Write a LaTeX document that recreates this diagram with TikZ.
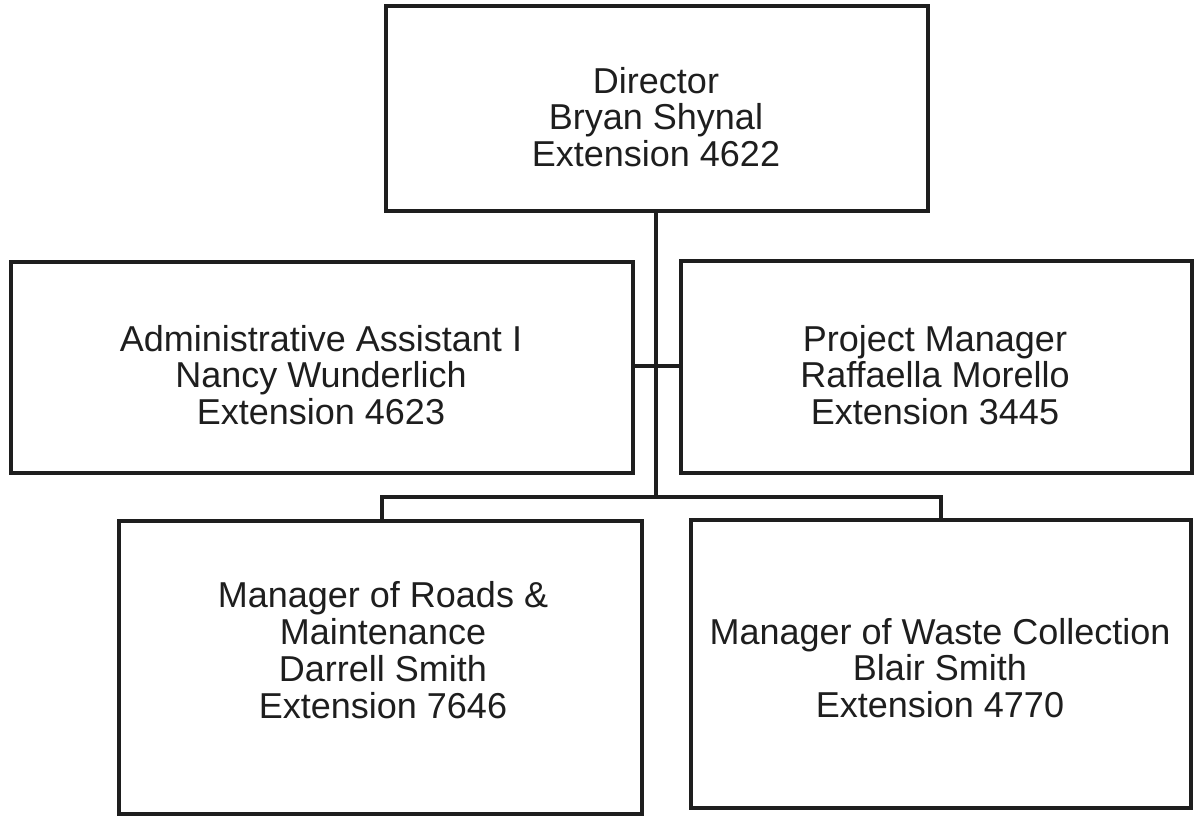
\documentclass[tikz,border=0pt]{standalone}
\usepackage{fontspec}
\setmainfont{Liberation Sans}
\definecolor{ink}{RGB}{30,30,30}
\begin{document}
\begin{tikzpicture}[x=0.75pt,y=-0.75pt,
  box/.style={draw=ink,line width=3pt,rectangle,inner sep=0pt},
  lbl/.style={align=center,inner sep=0pt,font=\fontsize{27}{27.6}\selectfont,text=ink},
  link/.style={draw=ink,line width=3pt}]
\useasboundingbox (0,0) rectangle (1196,815);
\node[box,minimum width=406.5pt,minimum height=153.75pt] (dir) at (657,108.5) {};
\node[box,minimum width=466.5pt,minimum height=158.25pt] (admin) at (322,367.5) {};
\node[box,minimum width=383.25pt,minimum height=159pt] (pm) at (936.5,367) {};
\node[box,minimum width=392.25pt,minimum height=219.75pt] (roads) at (380.5,667.5) {};
\node[box,minimum width=375pt,minimum height=216pt] (waste) at (941,664) {};
\node[lbl] (dirt) at (656,117) {Director\\Bryan Shynal\\Extension 4622};
\node[lbl] (admint) at (321,375) {Administrative Assistant I\\Nancy Wunderlich\\Extension 4623};
\node[lbl] (pmt) at (935,375) {Project Manager\\Raffaella Morello\\Extension 3445};
\node[lbl] (roadst) at (383,650) {Manager of Roads \&\\Maintenance\\Darrell Smith\\Extension 7646};
\node[lbl] (wastet) at (940,668) {Manager of Waste Collection\\Blair Smith\\Extension 4770};
\coordinate (mid) at (656,366);
\coordinate (bar) at (656,497);
\coordinate (bl) at (382,497);
\coordinate (br) at (941,497);
\draw[link] (dir.south -| bar) -- (bar);
\draw[link] (admin.east |- mid) -- (pm.west |- mid);
\draw[link] (bl |- roads.north) -- (bl) -- (br) -- (br |- waste.north);
\end{tikzpicture}
\end{document}
